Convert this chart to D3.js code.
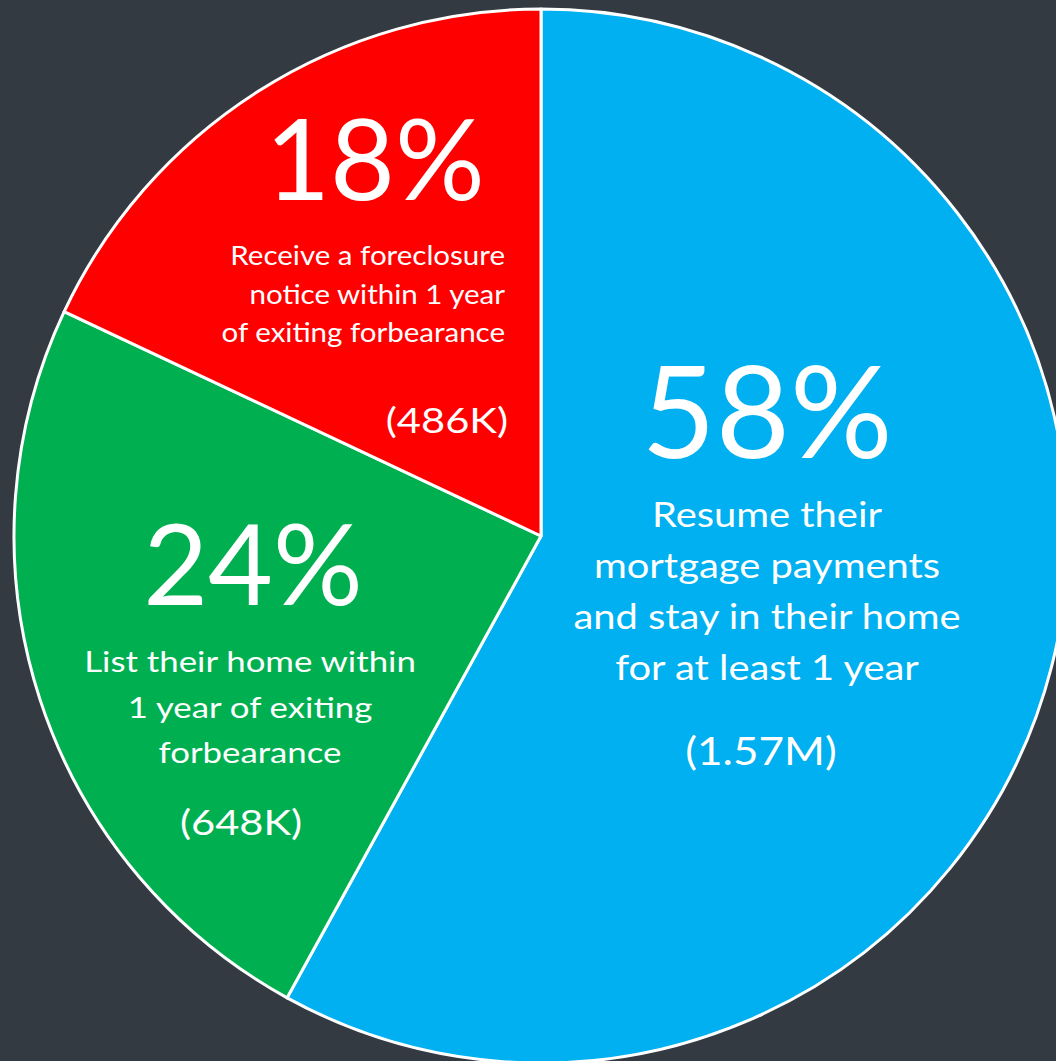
<!DOCTYPE html>
<html>
<head>
<meta charset="utf-8">
<script src="https://cdn.jsdelivr.net/npm/d3@7"></script>
<style>
  html, body { margin: 0; padding: 0; background: #333a42; overflow: hidden; }
  svg { display: block; }
  text { font-family: Lato, "Open Sans", sans-serif; fill: #ffffff; }
</style>
</head>
<body>
<svg id="chart" width="1056" height="1061"></svg>
<script>
// Outcomes for homeowners exiting forbearance
const categories = ["resume", "list", "foreclosure"];
const shares = [58, 24, 18];
const counts = ["(1.57M)", "(648K)", "(486K)"];
const descriptions = [
  ["Resume their", "mortgage payments", "and stay in their home", "for at least 1 year"],
  ["List their home within", "1 year of exiting", "forbearance"],
  ["Receive a foreclosure", "notice within 1 year", "of exiting forbearance"]
];
const colors = ["#00b0f0", "#00b050", "#ff0000"];

// Text layout per slice (offsets from the pie centre); sx widens the body text
const layout = [
  { anchor: "middle", x: 226, pctX: 226, pctY: -78, pctSize: 128,
    lineY0: -9, lineStep: 51, lineSize: 35, lineSx: 1.14,
    countX: 220, countY: 229, countSize: 38, countSx: 1.16 },
  { anchor: "middle", x: -291, pctX: -288, pctY: 69, pctSize: 112,
    lineY0: 136, lineStep: 45.5, lineSize: 29, lineSx: 1.2,
    countX: -300, countY: 299, countSize: 35, countSx: 1.19 },
  { anchor: "end", x: -36, pctX: -166, pctY: -336, pctSize: 112,
    lineY0: -271, lineStep: 38.5, lineSize: 26, lineSx: 1.135,
    countX: -33, countY: -103, countSize: 35, countSx: 1.19 }
];

const cx = 541, cy = 536, radius = 527;

const svg = d3.select("#chart");
const g = svg.append("g").attr("transform", `translate(${cx},${cy})`);

const pie = d3.pie().sort(null).value(d => d)(shares);
const arc = d3.arc().innerRadius(0).outerRadius(radius);

g.selectAll("path.slice")
  .data(pie)
  .join("path")
  .attr("class", "slice")
  .attr("d", arc)
  .attr("fill", (d, i) => colors[i])
  .attr("stroke", "#ffffff")
  .attr("stroke-width", 3)
  .attr("stroke-linejoin", "round");

const labels = g.selectAll("g.label")
  .data(pie)
  .join("g")
  .attr("class", "label");

labels.append("text")
  .attr("x", (d, i) => layout[i].pctX)
  .attr("y", (d, i) => layout[i].pctY)
  .attr("text-anchor", "middle")
  .style("font-size", (d, i) => layout[i].pctSize + "px")
  .text(d => d.data + "%");

labels.each(function (d, i) {
  const L = layout[i];
  const sel = d3.select(this);
  descriptions[i].forEach((line, k) => {
    sel.append("text")
      .attr("transform", `translate(${L.x},${L.lineY0 + k * L.lineStep}) scale(${L.lineSx},1)`)
      .attr("text-anchor", L.anchor)
      .style("font-size", L.lineSize + "px")
      .text(line);
  });
  sel.append("text")
    .attr("transform", `translate(${L.countX},${L.countY}) scale(${L.countSx},1)`)
    .attr("text-anchor", L.anchor)
    .style("font-size", L.countSize + "px")
    .text(counts[i]);
});
</script>
</body>
</html>
